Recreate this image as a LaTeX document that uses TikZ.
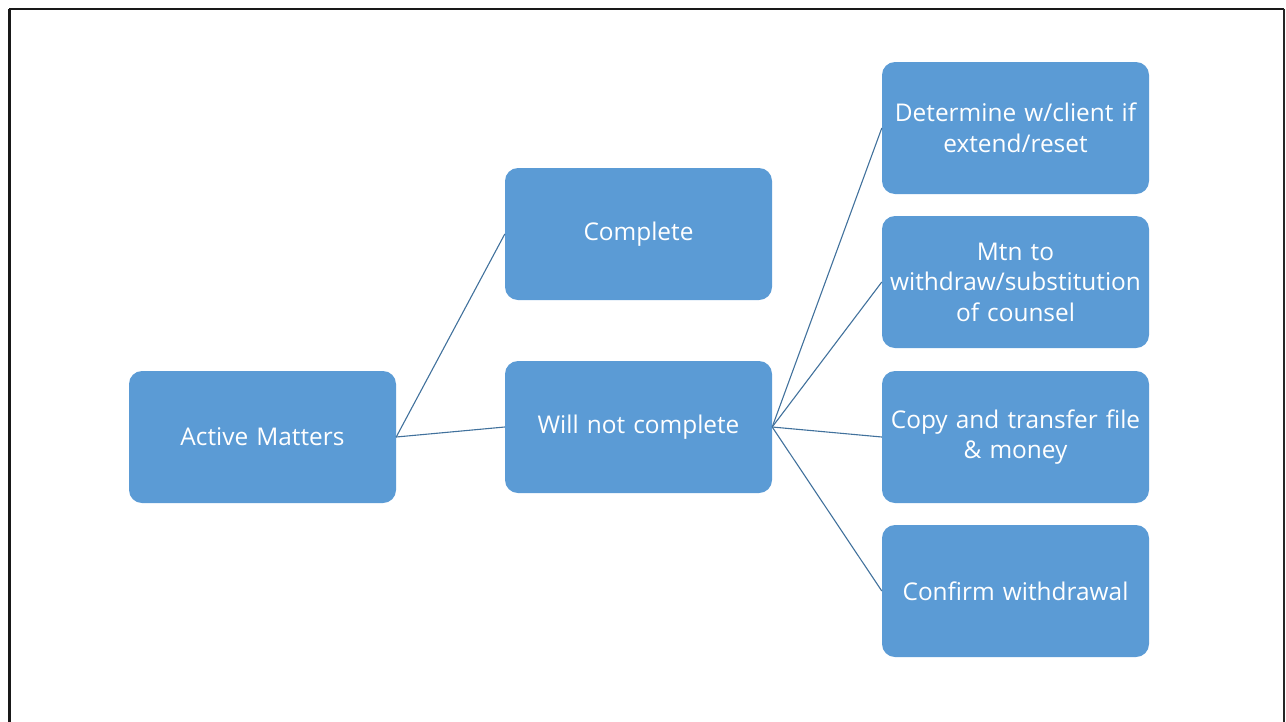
\documentclass[tikz,border=0pt]{standalone}
\usepackage{fontspec}
\setmainfont{Open Sans}[Ligatures=NoCommon]
\definecolor{boxblue}{HTML}{5B9BD5}
\definecolor{linkblue}{HTML}{41719C}
\begin{document}
\begin{tikzpicture}[x=1pt,y=-1pt,
  box/.style={draw=none,fill=boxblue,rounded corners=13pt,minimum width=267pt,minimum height=132pt,
    text=white,text width=264pt,align=center,font=\fontsize{24.4}{30.5}\selectfont,inner sep=0pt},
  link/.style={draw=linkblue,line width=1.1pt}]
\useasboundingbox (0,0) rectangle (1286,721);
\begin{scope}
\clip (0,0) rectangle (1286,721);
\draw[line width=2.6pt,black!90] (9.3,8.8) -- (1283.8,8.8);
\draw[line width=3pt,black!90] (9.3,8.8) -- (9.3,740);
\draw[line width=2pt,black!85] (1283.8,8.8) -- (1283.8,740);
\end{scope}
\node[box] (am) at (262.5,437) {Active Matters};
\node[box] (co) at (638.5,234) {Complete};
\node[box] (wn) at (638.5,427) {Will not complete};
\node[box] (d1) at (1015.5,128) {Determine w/client if\\extend/reset};
\node[box] (d2) at (1015.5,282) {Mtn to\\withdraw/substitution\\of counsel};
\node[box] (d3) at (1015.5,437) {Copy and transfer file\\\&{} money};
\node[box] (d4) at (1015.5,591) {Confirm withdrawal};
\draw[link] (am.east) -- (co.west);
\draw[link] (am.east) -- (wn.west);
\draw[link] (wn.east) -- (d1.west);
\draw[link] (wn.east) -- (d2.west);
\draw[link] (wn.east) -- (d3.west);
\draw[link] (wn.east) -- (d4.west);
\end{tikzpicture}
\end{document}
